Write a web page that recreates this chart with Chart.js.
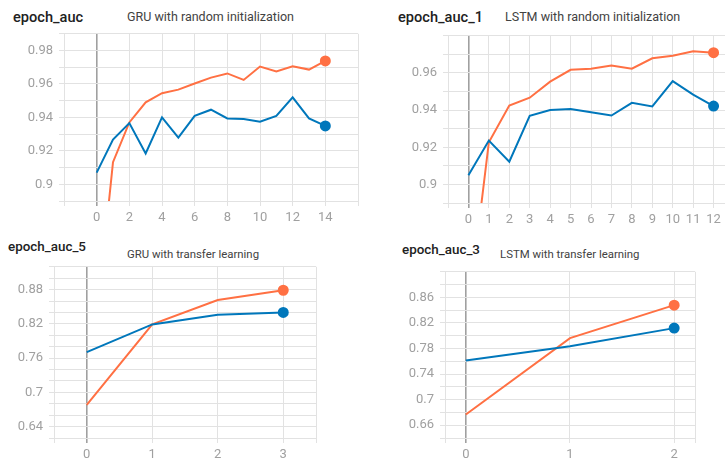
<!DOCTYPE html>
<html lang="en">
<head>
  <meta charset="UTF-8">
  <title>epoch_auc</title>
  <script src="https://cdn.jsdelivr.net/npm/chart.js"></script>
  <style>
    html, body { margin: 0; padding: 0; background: #fff; overflow: hidden; width: 725px; height: 460px; }
    body { position: relative; font-family: Roboto, Arial, sans-serif; }
    .tag { position: absolute; font-size: 14.6px; font-weight: 500; color: #212121; line-height: 20px; white-space: nowrap; }
    .title { position: absolute; font-size: 12.5px; color: #424242; line-height: 16px; white-space: nowrap; }
    .small.tag { font-size: 13.4px; }
    .small.title { font-size: 11.4px; }
    canvas { position: absolute; }
  </style>
</head>
<body>

<div class="tag" style="left:13px; top:7px;">epoch_auc</div>
<div class="title" style="left:127px; top:9px;">GRU with random initialization</div>
<canvas id="c1"></canvas>

<div class="tag" style="left:398px; top:7px;">epoch_auc_1</div>
<div class="title" style="left:505px; top:9px;">LSTM with random initialization</div>
<canvas id="c2"></canvas>

<div class="tag small" style="left:8px; top:237px;">epoch_auc_5</div>
<div class="title small" style="left:127px; top:246px;">GRU with transfer learning</div>
<canvas id="c3"></canvas>

<div class="tag small" style="left:402px; top:240px;">epoch_auc_3</div>
<div class="title small" style="left:500px; top:246px;">LSTM with transfer learning</div>
<canvas id="c4"></canvas>

<script>
// GRU, random init
const gruRandEpochs = [0, 1, 2, 3, 4, 5, 6, 7, 8, 9, 10, 11, 12, 13, 14];
const gruRandTrain = [0.8185, 0.9132, 0.937, 0.949, 0.9545, 0.9566, 0.9603, 0.9638, 0.9663, 0.9624, 0.9704, 0.9675, 0.9706, 0.9686, 0.9738];
const gruRandVal = [0.907, 0.9267, 0.9366, 0.9184, 0.94, 0.9279, 0.9409, 0.9446, 0.9394, 0.939, 0.9374, 0.9409, 0.952, 0.9394, 0.9349];
const gruRandXGrid = [-2, 0, 2, 4, 6, 8, 10, 12, 14, 16];
const gruRandXLabels = [0, 2, 4, 6, 8, 10, 12, 14];
const gruRandYGrid = [0.89, 0.90, 0.91, 0.92, 0.93, 0.94, 0.95, 0.96, 0.97, 0.98, 0.99];
const gruRandYLabels = [0.9, 0.92, 0.94, 0.96, 0.98];

// LSTM, random init
const lstmRandEpochs = [0, 1, 2, 3, 4, 5, 6, 7, 8, 9, 10, 11, 12];
const lstmRandTrain = [0.832, 0.9227, 0.9425, 0.9467, 0.9553, 0.9617, 0.9623, 0.964, 0.9623, 0.9679, 0.9693, 0.9717, 0.9709];
const lstmRandVal = [0.9049, 0.9236, 0.9122, 0.9369, 0.9401, 0.9406, 0.9388, 0.9371, 0.9439, 0.942, 0.9556, 0.9483, 0.9422];
const lstmRandXGrid = [-1, 0, 1, 2, 3, 4, 5, 6, 7, 8, 9, 10, 11, 12, 13];
const lstmRandXLabels = [0, 1, 2, 3, 4, 5, 6, 7, 8, 9, 10, 11, 12];
const lstmRandYGrid = [0.89, 0.90, 0.91, 0.92, 0.93, 0.94, 0.95, 0.96, 0.97, 0.98];
const lstmRandYLabels = [0.9, 0.92, 0.94, 0.96];

// GRU, transfer learning
const gruTransEpochs = [0, 1, 2, 3];
const gruTransTrain = [0.6782, 0.819, 0.8618, 0.8789];
const gruTransVal = [0.7705, 0.819, 0.8361, 0.8401];
const gruTransXGrid = [-0.5, 0, 1, 2, 3, 3.5];
const gruTransXLabels = [0, 1, 2, 3];
const gruTransYGrid = [0.62, 0.64, 0.66, 0.68, 0.70, 0.72, 0.74, 0.76, 0.78, 0.80, 0.82, 0.84, 0.86, 0.88, 0.90, 0.92];
const gruTransYLabels = [0.64, 0.7, 0.76, 0.82, 0.88];

// LSTM, transfer learning
const lstmTransEpochs = [0, 1, 2];
const lstmTransTrain = [0.6767, 0.7962, 0.8478];
const lstmTransVal = [0.7613, 0.7835, 0.8119];
const lstmTransXGrid = [-0.2, 0, 1, 2, 2.2];
const lstmTransXLabels = [0, 1, 2];
const lstmTransYGrid = [0.64, 0.66, 0.68, 0.70, 0.72, 0.74, 0.76, 0.78, 0.80, 0.82, 0.84, 0.86, 0.88, 0.90];
const lstmTransYLabels = [0.66, 0.7, 0.74, 0.78, 0.82, 0.86];

const ORANGE = '#ff7043';
const BLUE = '#0077bb';
const Y_AXIS_W = 50, X_AXIS_H = 26, PAD = 10;

function hasValue(list, v) {
  return list.some(x => Math.abs(x - v) < 1e-6);
}

function series(color, epochs, values) {
  const last = values.length - 1;
  return {
    data: epochs.map((e, i) => ({ x: e, y: values[i] })),
    borderColor: color,
    backgroundColor: color,
    borderWidth: 2,
    pointRadius: ctx => ctx.dataIndex === last ? 4.5 : 0,
    pointHoverRadius: 0,
    tension: 0,
    fill: false
  };
}

// plot = [left, top, right, bottom] of the plotting area in page pixels
function makeChart(id, plot, epochs, train, val, xGrid, xLabels, yGrid, yLabels) {
  const cv = document.getElementById(id);
  const left = Math.round(plot[0] - Y_AXIS_W), top = Math.round(plot[1] - PAD);
  cv.style.left = left + 'px';
  cv.style.top = top + 'px';
  cv.width = Math.round(plot[2] + PAD) - left;
  cv.height = Math.round(plot[3] + X_AXIS_H) - top;

  new Chart(cv, {
    type: 'line',
    data: { datasets: [series(BLUE, epochs, val), series(ORANGE, epochs, train)] },
    options: {
      responsive: false,
      animation: false,
      devicePixelRatio: 1,
      layout: { padding: { top: PAD, right: PAD, left: 0, bottom: 0 } },
      plugins: { legend: { display: false }, tooltip: { enabled: false } },
      scales: {
        x: {
          type: 'linear',
          min: xGrid[0], max: xGrid[xGrid.length - 1],
          afterBuildTicks: s => { s.ticks = xGrid.map(v => ({ value: v })); },
          afterFit: s => { s.height = X_AXIS_H; },
          border: { display: false },
          grid: {
            color: c => (c.tick && c.tick.value === 0) ? '#a0a0a0' : '#e2e2e2',
            lineWidth: c => (c.tick && c.tick.value === 0) ? 1.6 : 1,
            tickLength: 5
          },
          ticks: {
            color: '#a0a0a0', padding: 4, maxRotation: 0, autoSkip: false,
            font: { family: 'Roboto', size: 13 },
            callback: v => hasValue(xLabels, v) ? String(v) : ''
          }
        },
        y: {
          min: yGrid[0], max: yGrid[yGrid.length - 1],
          afterBuildTicks: s => { s.ticks = yGrid.map(v => ({ value: v })); },
          afterFit: s => { s.width = Y_AXIS_W; },
          border: { display: false },
          grid: { color: '#e2e2e2', lineWidth: 1, tickLength: 5 },
          ticks: {
            color: '#a0a0a0', padding: 6, autoSkip: false,
            font: { family: 'Roboto', size: 13 },
            callback: v => hasValue(yLabels, v) ? String(+v.toFixed(2)) : ''
          }
        }
      }
    }
  });
}

makeChart('c1', [64, 30, 358, 201], gruRandEpochs, gruRandTrain, gruRandVal, gruRandXGrid, gruRandXLabels, gruRandYGrid, gruRandYLabels);
makeChart('c2', [448, 32, 734, 203], lstmRandEpochs, lstmRandTrain, lstmRandVal, lstmRandXGrid, lstmRandXLabels, lstmRandYGrid, lstmRandYLabels);
makeChart('c3', [54, 263, 316, 438], gruTransEpochs, gruTransTrain, gruTransVal, gruTransXGrid, gruTransXLabels, gruTransYGrid, gruTransYLabels);
makeChart('c4', [445, 268, 695, 438], lstmTransEpochs, lstmTransTrain, lstmTransVal, lstmTransXGrid, lstmTransXLabels, lstmTransYGrid, lstmTransYLabels);
</script>

</body>
</html>
